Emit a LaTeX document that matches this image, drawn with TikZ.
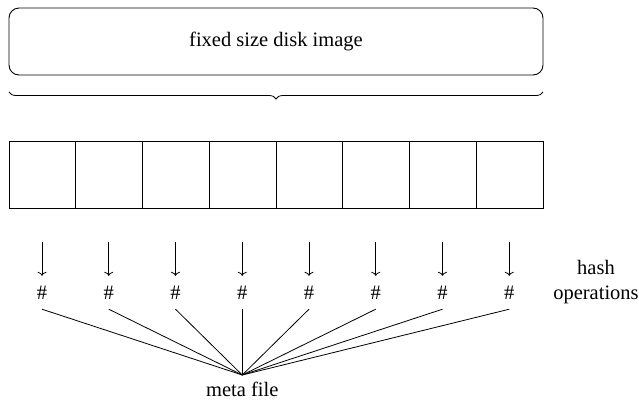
\documentclass[tikz,border=0pt]{standalone}
\usepackage{fontspec}
\setmainfont{Liberation Serif}
\usetikzlibrary{arrows.meta,decorations.pathreplacing}
\begin{document}
\begin{tikzpicture}[x=1pt,y=-1pt,
  every node/.style={font=\fontsize{20.5}{24.6}\selectfont},
  diskbox/.style={draw,line width=0.9pt,rounded corners=10pt,minimum width=534pt,minimum height=67pt,inner sep=0pt},
  blockbox/.style={draw,line width=0.9pt,minimum width=66.75pt,minimum height=67pt,inner sep=0pt},
  hashnode/.style={inner sep=0pt,minimum height=33pt},
  hasharrow/.style={line width=0.8pt,-{To[length=4pt,width=9pt]}},
  metaline/.style={line width=0.8pt},
  bracestyle/.style={line width=0.8pt,decorate,decoration={brace,mirror,amplitude=7pt}}]
\useasboundingbox (0,0) rectangle (639,400);
\node[diskbox] (disk) at (276,41.5) {fixed size disk image};
\coordinate (bl) at (9,92);
\coordinate (br) at (543,92);
\draw[bracestyle] (bl) -- (br);
\foreach \i in {1,...,8} {
  \node[blockbox] (b\i) at ({9+66.75*(\i-0.5)},174.5) {};
  \coordinate (a\i) at ({42+66.75*(\i-1)},242);
  \node[hashnode] (h\i) at ({42+66.75*(\i-1)},292.5) {\#};
  \draw[hasharrow] (a\i) -- (h\i.north);
}
\coordinate (m) at (242.25,375);
\foreach \i in {1,...,8} {
  \draw[metaline] (h\i.south) -- (m);
}
\node[anchor=base,inner sep=0pt] (meta) at (242.25,396.5) {meta file};
\node[align=center,inner sep=0pt] (ops) at (596,282) {hash\\operations};
\end{tikzpicture}
\end{document}
